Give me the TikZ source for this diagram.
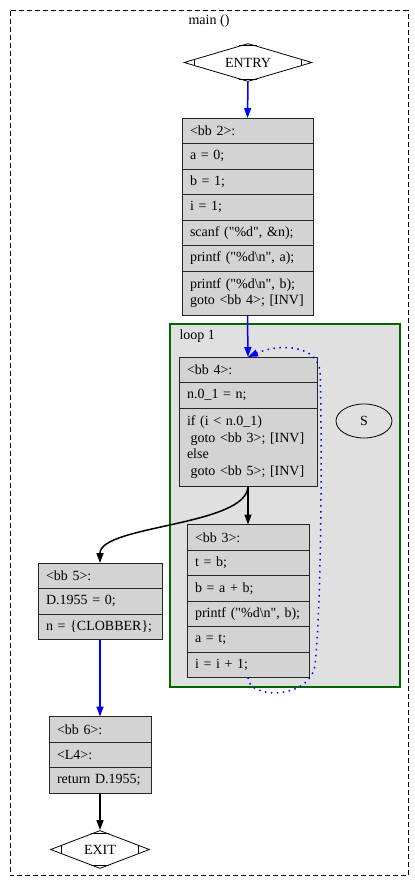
\documentclass[tikz,border=0pt]{standalone}
\usepackage{fontspec}
\setmainfont{Liberation Serif}
\usetikzlibrary{arrows.meta,positioning,shapes.geometric,calc}
\definecolor{bbfill}{HTML}{D3D3D3}
\definecolor{loopfill}{HTML}{E0E0E0}
\definecolor{loopline}{HTML}{006400}

\begin{document}
\begin{tikzpicture}[x=1pt,y=-1pt,font=\fontsize{14}{16.8}\selectfont,
  bbrow/.style={draw=black!85,fill=bbfill,line width=1pt,minimum height=25.5pt,outer sep=0pt,
    inner xsep=8pt,inner ysep=0pt,text width=#1,align=left},
  ends/.style={draw,shape=diamond,line width=0.8pt,minimum height=38pt,inner sep=0pt,aspect=3.5},
  flow/.style={blue,line width=1.5pt,-{Triangle[length=10pt,width=7pt]}},
  jump/.style={black,line width=1.5pt,-{Triangle[length=10pt,width=7pt]}},
  back/.style={blue,line width=1.5pt,dash pattern=on 1.5pt off 4.5pt,-{Triangle[length=10pt,width=7pt]}}]
\useasboundingbox (0,0) rectangle (415,892);
\def\q{\textquotedbl}
% function frame and loop cluster
\draw[line width=0.8pt,dash pattern=on 5pt off 3pt] (10,10.5) rectangle (408,875.5);
\node (title) at (209,21) {main ()};
\fill[loopfill] (170,324) rectangle (400,687);
\draw[loopline,line width=2pt] (170,324) rectangle (400,687);
\node[anchor=west] (looplbl) at (176,336) {loop 1};

\node[ends,minimum width=128pt] (entry) at (248,62.5) {ENTRY};

% bb 2
\node[bbrow=115pt,anchor=north] (bb2-1) at (247.5,118) {<bb 2>:};
\node[bbrow=115pt,below=0pt of bb2-1] (bb2-2) {a = 0;};
\node[bbrow=115pt,below=0pt of bb2-2] (bb2-3) {b = 1;};
\node[bbrow=115pt,below=0pt of bb2-3] (bb2-4) {i = 1;};
\node[bbrow=115pt,below=0pt of bb2-4] (bb2-5) {scanf (\q\%d\q, \&n);};
\node[bbrow=115pt,below=0pt of bb2-5] (bb2-6) {printf (\q\%d\textbackslash n\q, a);};
\node[bbrow=115pt,below=0pt of bb2-6,minimum height=44pt] (bb2-7) {printf (\q\%d\textbackslash n\q, b);\\goto <bb 4>; [INV]};

% bb 4
\node[bbrow=122pt,anchor=north] (bb4-1) at (248,357) {<bb 4>:};
\node[bbrow=122pt,below=0pt of bb4-1] (bb4-2) {n.0\_1 = n;};
\node[bbrow=122pt,below=0pt of bb4-2,minimum height=78pt] (bb4-3) {if (i < n.0\_1)\\\hspace*{3.5pt}goto <bb 3>; [INV]\\else\\\hspace*{3.5pt}goto <bb 5>; [INV]};

\node[draw,ellipse,line width=0.8pt,minimum width=56pt,minimum height=34pt] (s) at (364,421) {S};

% bb 3
\node[bbrow=106pt,anchor=north] (bb3-1) at (248,524.5) {<bb 3>:};
\node[bbrow=106pt,below=0pt of bb3-1] (bb3-2) {t = b;};
\node[bbrow=106pt,below=0pt of bb3-2] (bb3-3) {b = a + b;};
\node[bbrow=106pt,below=0pt of bb3-3] (bb3-4) {printf (\q\%d\textbackslash n\q, b);};
\node[bbrow=106pt,below=0pt of bb3-4] (bb3-5) {a = t;};
\node[bbrow=106pt,below=0pt of bb3-5] (bb3-6) {i = i + 1;};

% bb 5
\node[bbrow=108pt,anchor=north] (bb5-1) at (100,563) {<bb 5>:};
\node[bbrow=108pt,below=0pt of bb5-1] (bb5-2) {D.1955 = 0;};
\node[bbrow=108pt,below=0pt of bb5-2] (bb5-3) {n = \{CLOBBER\};};

% bb 6
\node[bbrow=86pt,anchor=north] (bb6-1) at (100,716.5) {<bb 6>:};
\node[bbrow=86pt,below=0pt of bb6-1] (bb6-2) {<L4>:};
\node[bbrow=86pt,below=0pt of bb6-2] (bb6-3) {return D.1955;};

\node[ends,minimum width=99pt] (exit) at (100,849.5) {EXIT};

% corner cuts of the entry/exit diamonds
\foreach \nm/\p/\t in {entry/0.17/0.14,exit/0.23/0.18} {
  \draw[line width=0.8pt] ($(\nm.west)!\p!(\nm.north)$) -- ($(\nm.west)!\p!(\nm.south)$);
  \draw[line width=0.8pt] ($(\nm.east)!\p!(\nm.north)$) -- ($(\nm.east)!\p!(\nm.south)$);
  \draw[line width=0.8pt] ($(\nm.north)!\t!(\nm.west)$) -- ($(\nm.north)!\t!(\nm.east)$);
  \draw[line width=0.8pt] ($(\nm.south)!\t!(\nm.west)$) -- ($(\nm.south)!\t!(\nm.east)$);
}

% edges
\draw[flow] (entry.south) -- (bb2-1.north);
\draw[flow] (bb2-7.south) -- (bb4-1.north);
\draw[jump] (bb4-3.south) -- (bb3-1.north);
\draw[jump] (bb4-3.south) .. controls +(0,40) and +(0,-38) .. (bb5-1.north);
\draw[back] (bb3-6.south) .. controls +(0,22) and (310,700) .. (315,665)
  .. controls (322,600) and (322,420) .. (320,372)
  .. controls (318,345) and (280,343) .. (bb4-1.north);
\draw[flow] (bb5-3.south) -- (bb6-1.north);
\draw[jump] (bb6-3.south) -- (exit.north);
\end{tikzpicture}
\end{document}
